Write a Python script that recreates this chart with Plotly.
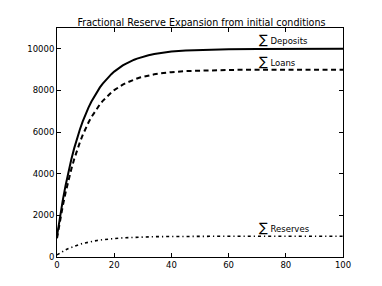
import plotly.graph_objects as go

rounds = [0,1,2,3,4,5,6,7,8,9,10,11,12,13,14,15,16,17,18,19,20,21,22,23,24,25,26,27,28,29,30,32,34,36,38,40,45,50,55,60,70,80,90,100]
deposits = [1000,1900,2710,3439,4095,4686,5217,5695,6126,6513,6862,7176,7458,7712,7941,8147,8332,8499,8649,8784,8906,9015,9114,9202,9282,9354,9419,9477,9529,9576,9618,9691,9750,9797,9836,9867,9921,9954,9973,9984,9994,9998,9999,10000]
loans = [900,1710,2439,3095,3686,4217,4695,5126,5513,5862,6176,6458,6712,6941,7147,7332,7499,7649,7784,7906,8015,8114,8203,8282,8354,8419,8477,8529,8576,8618,8656,8722,8775,8817,8852,8880,8929,8959,8976,8986,8995,8998,8999,9000]
reserves = [100,190,271,344,410,469,522,570,613,651,686,718,746,771,794,815,833,850,865,878,891,902,911,920,928,935,942,948,953,958,962,969,975,980,984,987,992,995,997,998,999,1000,1000,1000]

labels = ["Deposits", "Loans", "Reserves"]
label_x = [70, 70, 70]
label_y = [10430, 9380, 1400]

x_ticks = [0, 20, 40, 60, 80, 100]
y_ticks = [0, 2000, 4000, 6000, 8000, 10000]

fig = go.Figure()
fig.add_trace(go.Scatter(x=rounds, y=deposits, mode="lines",
                         line=dict(color="black", width=2, dash="solid")))
fig.add_trace(go.Scatter(x=rounds, y=loans, mode="lines",
                         line=dict(color="black", width=2, dash="5px,3.5px")))
fig.add_trace(go.Scatter(x=rounds, y=reserves, mode="lines",
                         line=dict(color="black", width=1.6, dash="3px,3px,1.2px,3px")))

for name, lx, ly in zip(labels, label_x, label_y):
    fig.add_annotation(x=lx, y=ly, xref="x", yref="y", xanchor="left", yanchor="middle",
                       text="<span style='font-size:13px'>∑</span> " + name,
                       showarrow=False, font=dict(family="DejaVu Sans", size=8.5, color="black"))

axis_common = dict(showline=True, linecolor="black", linewidth=1, mirror="ticks",
                   ticks="inside", ticklen=4, tickcolor="black", showgrid=False,
                   zeroline=False, automargin=False,
                   tickfont=dict(family="DejaVu Sans", size=8.5, color="black"))

fig.update_layout(
    width=382, height=286,
    margin=dict(l=49, r=47, t=20, b=37),
    paper_bgcolor="white", plot_bgcolor="white",
    showlegend=False,
    title=dict(text="Fractional Reserve Expansion from initial conditions",
               x=0.5065, xanchor="center", y=0.949, yanchor="middle",
               font=dict(family="DejaVu Sans", size=9.6, color="black")),
    xaxis=dict(range=[0, 100], tickvals=x_ticks, ticktext=[str(v) for v in x_ticks], **axis_common),
    yaxis=dict(range=[0, 11000], tickvals=y_ticks, ticktext=[str(v) for v in y_ticks], **axis_common),
)

fig.write_html("out.html")
